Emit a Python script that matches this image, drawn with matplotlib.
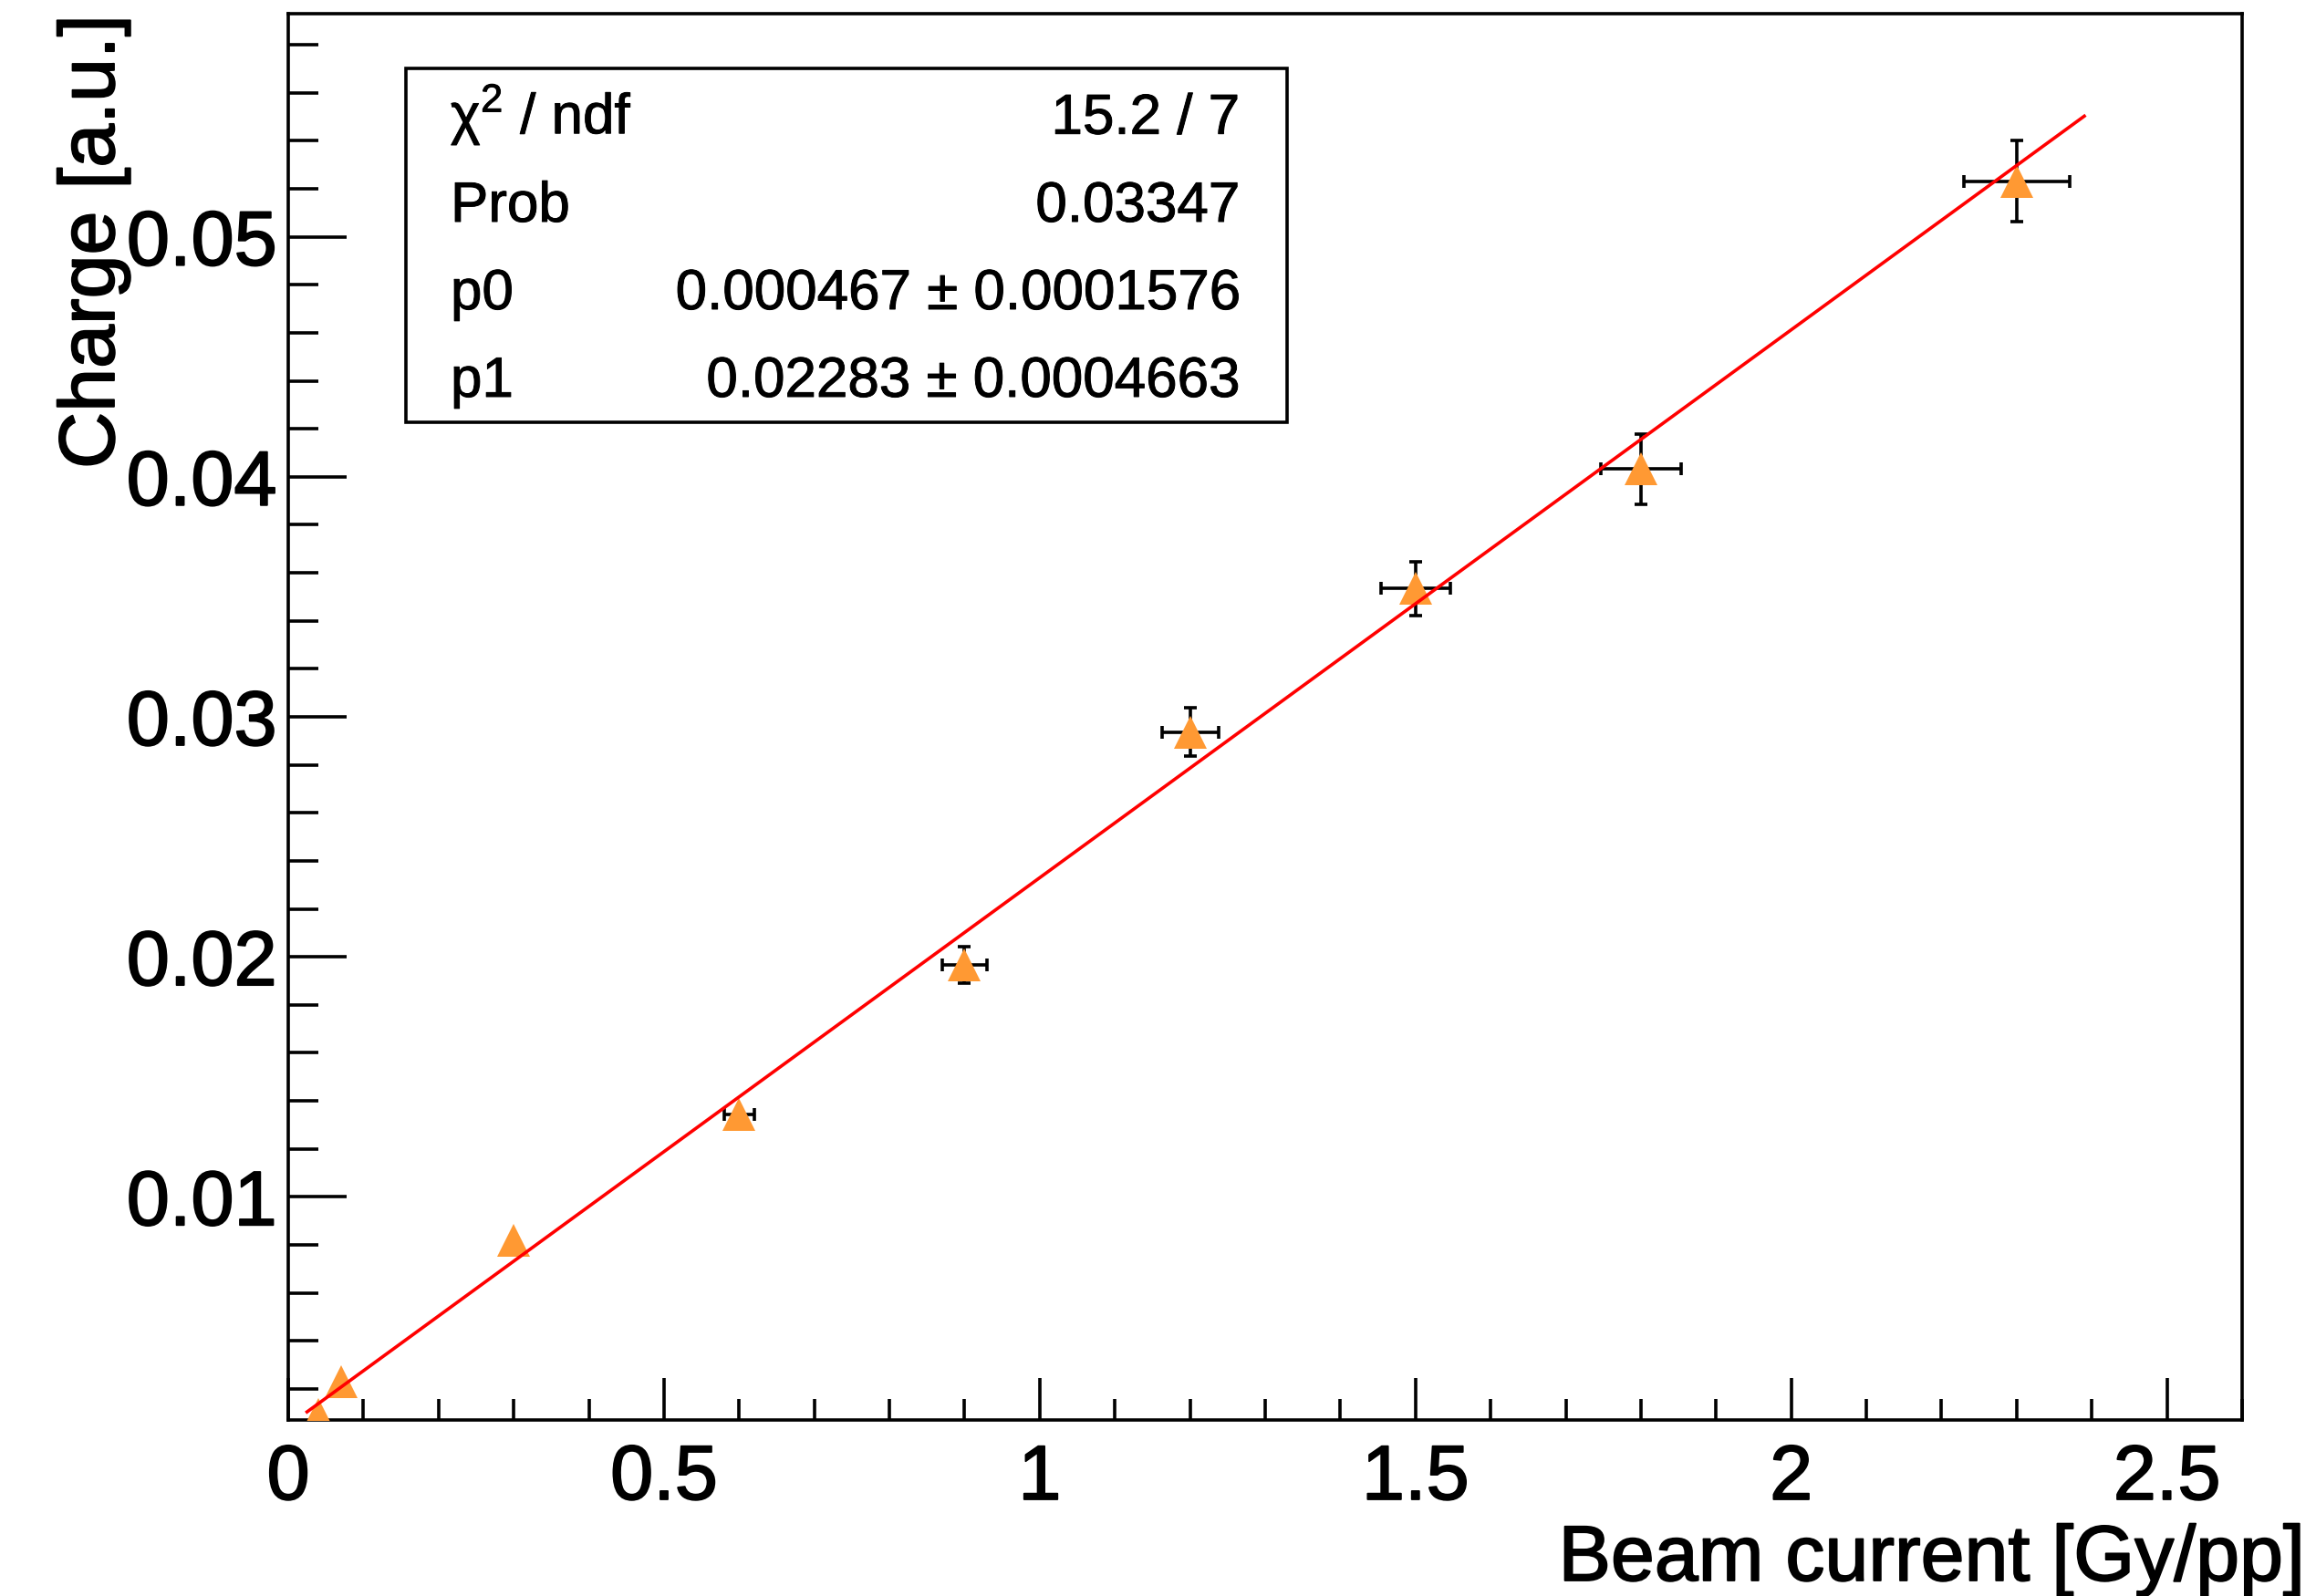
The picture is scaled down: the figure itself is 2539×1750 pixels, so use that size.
import numpy as np
import matplotlib
matplotlib.use("Agg")
import matplotlib.pyplot as plt
import matplotlib.patheffects as pe
from matplotlib.patches import Rectangle
from matplotlib.ticker import FixedLocator, MultipleLocator

plt.rcParams['font.family'] = ['Liberation Sans', 'DejaVu Sans']

# Measured points: beam current vs collected charge
beam_current = [0.04, 0.07, 0.30, 0.60, 0.90, 1.20, 1.50, 1.80, 2.30]
charge = [0.00091, 0.00230, 0.00819, 0.01342, 0.01966, 0.02936, 0.03534, 0.04032, 0.05232]
beam_current_err = [0.0, 0.0, 0.0, 0.0203, 0.0292, 0.0375, 0.0460, 0.0532, 0.0705]
charge_err = [0.0, 0.0, 0.0, 0.0, 0.00075, 0.00101, 0.00111, 0.00146, 0.00168]

# Linear fit result  (charge = p0 + p1 * current)
p0 = 0.000467
p1 = 0.02283
fit_range = [0.025, 2.39]

stat_names = ['χ$^\\mathregular{2}$ / ndf', 'Prob', 'p0', 'p1']
stat_values = ['15.2 / 7', '0.03347', '0.000467 ± 0.0001576', '0.02283 ± 0.0004663']

x_ticks = [0, 0.5, 1, 1.5, 2, 2.5]
y_ticks = [0.01, 0.02, 0.03, 0.04, 0.05]
x_limits = [0.0, 2.6]
y_limits = [0.0007, 0.0593]

heavy = [pe.withStroke(linewidth=1.3, foreground='black')]
medium = [pe.withStroke(linewidth=0.7, foreground='black')]

W, H = 2539, 1750
fig = plt.figure(figsize=(W / 100, H / 100), dpi=100)
ax = fig.add_axes([316 / W, 1 - 1557 / H, (2458 - 316) / W, (1557 - 15) / H])

# error bars underneath the markers
ax.errorbar(beam_current, charge, xerr=beam_current_err, yerr=charge_err,
            fmt='none', ecolor='black', elinewidth=2.6, capsize=4.7,
            capthick=2.6, zorder=2)
ax.plot(beam_current, charge, linestyle='none', marker='^', markersize=26,
        markerfacecolor='#FF9933', markeredgewidth=0, zorder=3)

# fitted line
xf = np.linspace(fit_range[0], fit_range[1], 200)
ax.plot(xf, p0 + p1 * xf, color='#FF0000', linewidth=2.6, zorder=4)

ax.set_xlim(*x_limits)
ax.set_ylim(*y_limits)

ax.xaxis.set_major_locator(FixedLocator(x_ticks))
ax.xaxis.set_minor_locator(MultipleLocator(0.1))
ax.yaxis.set_major_locator(FixedLocator(y_ticks))
ax.yaxis.set_minor_locator(MultipleLocator(0.002))
ax.set_xticklabels([f'{v:g}' for v in x_ticks])
ax.set_yticklabels([f'{v:g}' for v in y_ticks])

ax.tick_params(axis='both', which='both', direction='in', width=2.6,
               top=False, right=False, labelsize=61, color='black')
ax.tick_params(axis='x', which='major', length=33, pad=18)
ax.tick_params(axis='x', which='minor', length=16.5)
ax.tick_params(axis='y', which='major', length=46, pad=9)
ax.tick_params(axis='y', which='minor', length=24)
for s in ax.spines.values():
    s.set_linewidth(2.6)
for lab in ax.get_xticklabels() + ax.get_yticklabels():
    lab.set_path_effects(heavy)

# axis titles
fig.text(2527 / W, 1 - 1733 / H, 'Beam current [Gy/pp]', ha='right',
         va='baseline', fontsize=62, path_effects=heavy)
fig.text(125 / W, 1 - 16 / H, 'Charge [a.u.]', rotation=90,
         rotation_mode='anchor', ha='right', va='baseline', fontsize=62,
         path_effects=heavy)

# fit statistics box
bx0, bx1 = (445 - 316) / 2142, (1411 - 316) / 2142
by0, by1 = (1557 - 463) / 1542, (1557 - 75) / 1542
ax.add_patch(Rectangle((bx0, by0), bx1 - bx0, by1 - by0, transform=ax.transAxes,
                       facecolor='white', edgecolor='black', linewidth=2.6,
                       zorder=5))
row_y = [(1557 - b) / 1542 for b in (146.7, 243, 339, 435)]
for name, val, yy in zip(stat_names, stat_values, row_y):
    ax.text((494 - 316) / 2142, yy, name, transform=ax.transAxes,
            ha='left', va='baseline', fontsize=44.6, zorder=6,
            path_effects=medium)
    ax.text((1359 - 316) / 2142, yy, val, transform=ax.transAxes,
            ha='right', va='baseline', fontsize=44.6, zorder=6,
            path_effects=medium)

fig.savefig('out.png', dpi=100, facecolor='white')
